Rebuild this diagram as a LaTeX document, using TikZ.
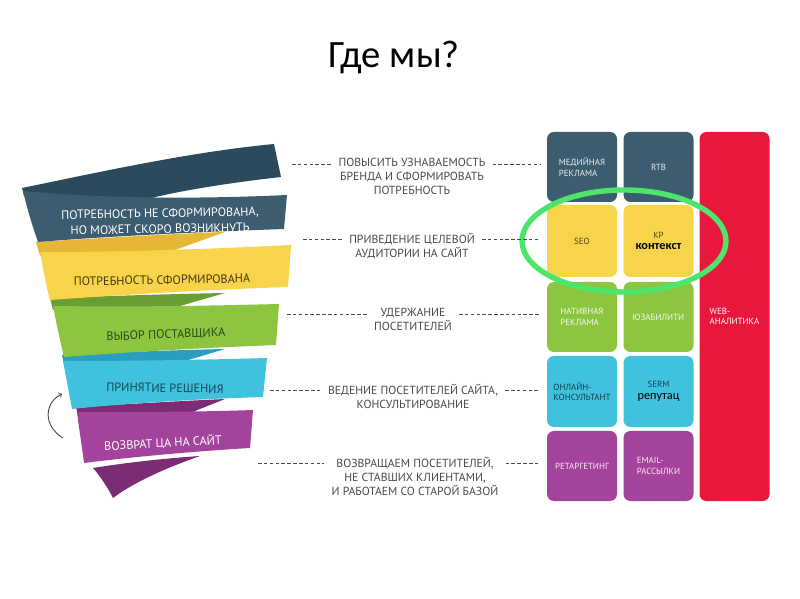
\documentclass[tikz,border=0pt]{standalone}
\usepackage{fontspec}
\setmainfont{PT Sans}
\newfontfamily\calfont{Carlito}
\usepackage{xcolor}
\usetikzlibrary{positioning}

\definecolor{tealF}{HTML}{3C5D70}
\definecolor{tealB}{HTML}{2C4A5B}
\definecolor{yelF}{HTML}{F8D44A}
\definecolor{yelB}{HTML}{E6B636}
\definecolor{grnF}{HTML}{8CC540}
\definecolor{grnB}{HTML}{6A9E33}
\definecolor{cyaF}{HTML}{40C1DE}
\definecolor{cyaB}{HTML}{2A9EBE}
\definecolor{purF}{HTML}{A4439B}
\definecolor{purB}{HTML}{7C2B75}
\definecolor{webred}{HTML}{E8183C}
\definecolor{ringgreen}{HTML}{4DE66B}
\definecolor{midgrey}{HTML}{4A4A4A}

\tikzset{
  tile/.style={rounded corners=0.21cm, minimum width=2.1cm, minimum height=2.1cm,
    inner sep=0pt, align=left, font=\fontsize{7.6}{9}\selectfont},
  midtext/.style={align=center, inner sep=0pt, text=midgrey,
    font=\fontsize{10}{12}\selectfont},
  bandtext/.style={align=center, inner sep=0pt, font=\fontsize{10.4}{12.4}\selectfont},
  dashline/.style={dashed, dash pattern=on 3pt off 2pt, midgrey, line width=0.7pt}
}

\begin{document}
\begin{tikzpicture}[x=0.03cm, y=-0.03cm]
    \fill[white] (0,0) rectangle (800,599);
    \useasboundingbox (0,0) rectangle (800,599);

    % Title
    \node[font=\calfont\fontsize{33}{38}\selectfont] (title) at (394,57) {Где мы?};

    % Funnel, drawn from the bottom band up
    \fill[purB] (93,468) .. controls (130,462) and (170,458) .. (200,456)
        .. controls (160,470) and (130,485) .. (113,498)
        .. controls (108,488) and (100,476) .. (93,468) -- cycle;
    \fill[purB] (76,407) .. controls (130,404) and (180,401) .. (225,399) -- (190,413)
        .. controls (150,414) and (110,415) .. (78,416) -- cycle;
    \fill[purF] (77,412) .. controls (140,412) and (200,412) .. (253,410) -- (250,448)
        .. controls (200,451) and (140,456) .. (84,463)
        .. controls (82,446) and (79,429) .. (77,412) -- cycle;

    \fill[cyaB] (62,355) .. controls (120,352) and (180,350) .. (225,349) -- (185,361)
        .. controls (140,362) and (100,364) .. (64,365) -- cycle;
    \fill[cyaF] (63,361) .. controls (130,361) and (200,360) .. (267,358) -- (263,397)
        .. controls (200,399) and (130,403) .. (72,409)
        .. controls (69,393) and (66,376) .. (63,361) -- cycle;

    \fill[grnB] (50,298) .. controls (110,296) and (170,294) .. (225,293) -- (180,306)
        .. controls (130,308) and (90,309) .. (53,310) -- cycle;
    \fill[grnF] (53,306) .. controls (130,307) and (200,306) .. (279,304) -- (276,345)
        .. controls (200,348) and (130,352) .. (64,357)
        .. controls (60,340) and (56,322) .. (53,306) -- cycle;

    \fill[yelB] (36,242) .. controls (100,238) and (170,234) .. (225,232) -- (175,250)
        .. controls (120,252) and (80,254) .. (40,256) -- cycle;
    \fill[yelF] (40,252) .. controls (130,252) and (210,249) .. (291,245) -- (288,287)
        .. controls (200,290) and (120,295) .. (50,300)
        .. controls (46,285) and (43,268) .. (40,252) -- cycle;

    \fill[tealB] (22,188) .. controls (100,172) and (190,152) .. (274,144) -- (281,177)
        .. controls (210,185) and (150,196) .. (125,206) -- (60,201) -- (24,196) -- cycle;
    \fill[tealF] (23,191) .. controls (110,199) and (200,199) .. (287,195) -- (284,229)
        .. controls (200,232) and (110,236) .. (38,242)
        .. controls (32,225) and (27,208) .. (23,191) -- cycle;

    % Band labels
    \node[bandtext, text=white, rotate=1] (f1) at (160,214) {ПОТРЕБНОСТЬ НЕ СФОРМИРОВАНА,};
    \node[bandtext, text=white, rotate=1] (f1b) at (160,229) {НО МОЖЕТ СКОРО ВОЗНИКНУТЬ};
    \node[bandtext, text=yelB!30!black, rotate=1] (f2) at (162,280) {ПОТРЕБНОСТЬ СФОРМИРОВАНА};
    \node[bandtext, text=grnB!45!black, rotate=2] (f3) at (166,335) {ВЫБОР ПОСТАВЩИКА};
    \node[bandtext, text=cyaB!45!black, rotate=-1] (f4) at (165,388) {ПРИНЯТИЕ РЕШЕНИЯ};
    \node[bandtext, text=white, rotate=3] (f5) at (163,443) {ВОЗВРАТ ЦА НА САЙТ};

    % Return arrow
    \coordinate (ra) at (63,438);
    \coordinate (rb) at (62,394);
    \draw[->, thick, midgrey] (ra) .. controls (42,425) and (45,402) .. (rb);

    % Tiles
    \node[tile, fill=webred, minimum height=11.07cm, text=white] (web) at (734.5,316.5) {WEB-\\АНАЛИТИКА};
    \node[tile, fill=tealF, text=white!88!tealF] (b11) at (582,167) {МЕДИЙНАЯ\\РЕКЛАМА};
    \node[tile, fill=tealF, text=white!88!tealF] (b12) at (658.5,167) {RTB};
    \node[tile, fill=yelF, text=yelB!35!black, minimum height=2.16cm] (b21) at (582,241) {SEO};
    \node[tile, fill=yelF, text=yelB!35!black, minimum height=2.16cm, align=center] (b22) at (658.5,241)
        {КР\\[1pt]{\calfont\fontsize{10.5}{11}\selectfont\bfseries\color{black}контекст}};
    \node[tile, fill=grnF, text=white!90!grnF] (b31) at (582,317) {НАТИВНАЯ\\РЕКЛАМА};
    \node[tile, fill=grnF, text=white!90!grnF] (b32) at (658.5,317) {ЮЗАБИЛИТИ};
    \node[tile, fill=cyaF, text=cyaB!40!black, minimum height=2.13cm] (b41) at (582,391.5) {ОНЛАЙН-\\КОНСУЛЬТАНТ};
    \node[tile, fill=cyaF, text=cyaB!40!black, minimum height=2.13cm, align=center] (b42) at (658.5,391.5)
        {SERM\\[1pt]{\calfont\fontsize{10.5}{11}\selectfont\color{black}репутац}};
    \node[tile, fill=purF, text=white!90!purF] (b51) at (582,466) {РЕТАРГЕТИНГ};
    \node[tile, fill=purF, text=white!90!purF] (b52) at (658.5,466) {EMAIL-\\РАССЫЛКИ};

    % Green ring round the traffic row
    \draw[ringgreen, line width=4.6pt] (624,241) ellipse [x radius=3.06cm, y radius=1.53cm];

    % Goals in the middle
    \node[midtext, anchor=north] (t1) at (412,158) {ПОВЫСИТЬ УЗНАВАЕМОСТЬ\\БРЕНДА И СФОРМИРОВАТЬ\\ПОТРЕБНОСТЬ};
    \node[midtext, anchor=north] (t2) at (412,233) {ПРИВЕДЕНИЕ ЦЕЛЕВОЙ\\АУДИТОРИИ НА САЙТ};
    \node[midtext, anchor=north] (t3) at (413,308) {УДЕРЖАНИЕ\\ПОСЕТИТЕЛЕЙ};
    \node[midtext, anchor=north] (t4) at (413,384) {ВЕДЕНИЕ ПОСЕТИТЕЛЕЙ САЙТА,\\КОНСУЛЬТИРОВАНИЕ};
    \node[midtext, anchor=north] (t5) at (415,457) {ВОЗВРАЩАЕМ ПОСЕТИТЕЛЕЙ,\\НЕ СТАВШИХ КЛИЕНТАМИ,\\И РАБОТАЕМ СО СТАРОЙ БАЗОЙ};

    % Dashed leaders
    \coordinate (d1) at (292,164);
    \coordinate (d2) at (303,239);
    \coordinate (d3) at (287,314);
    \coordinate (d4) at (270,390);
    \coordinate (d5) at (258,463);
    \foreach \i/\b in {1/b11, 2/b21, 3/b31, 4/b41, 5/b51} {
        \draw[dashline, shorten >=6pt] (d\i) -- (t\i.west |- d\i);
        \draw[dashline, shorten <=6pt, shorten >=6pt] (t\i.east |- d\i) -- (\b.west |- d\i);
    }
\end{tikzpicture}
\end{document}
